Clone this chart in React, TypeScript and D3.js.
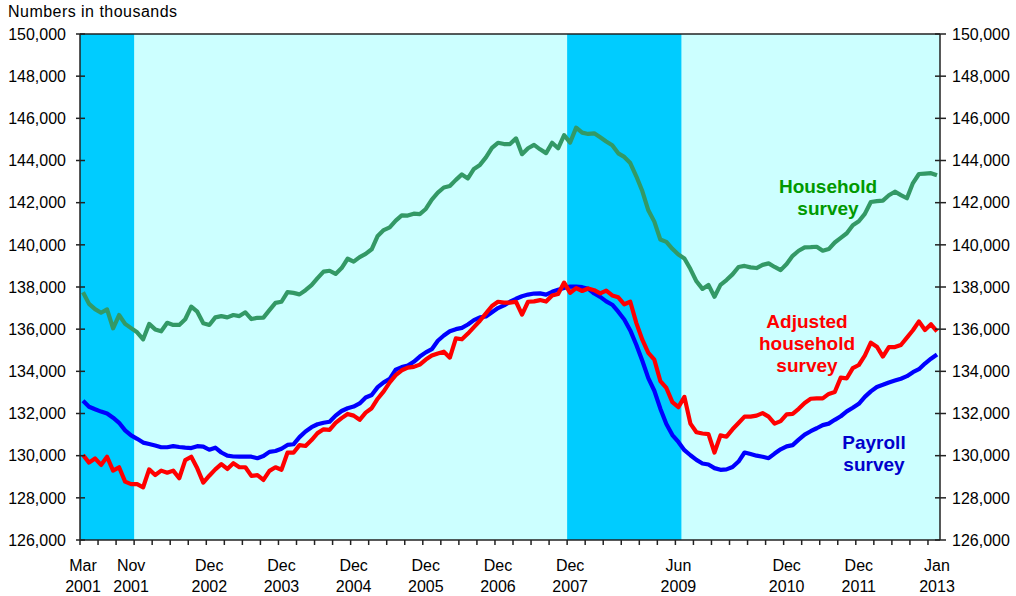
import * as d3 from "d3";

// monthly categories, Mar 2001 .. Jan 2013
const months: string[] = d3
  .timeMonth.range(new Date(2001, 2, 1), new Date(2013, 1, 1))
  .map(d3.timeFormat("%Y-%m"));

// values in thousands, one per month
const household = [
  137750, 137200, 136950, 136780, 136940, 136040, 136670, 136250, 136050, 135850, 135520, 136250,
  135990, 135900, 136300, 136200, 136200, 136470, 137070, 136830, 136280, 136200, 136560, 136620,
  136560, 136670, 136620, 136800, 136480, 136540, 136550, 136900, 137250, 137300, 137760, 137720,
  137650, 137850, 138090, 138420, 138730, 138770, 138620, 138900, 139340, 139200, 139420, 139570,
  139790, 140420, 140700, 140830, 141150, 141400, 141390, 141480, 141460, 141700, 142150, 142480,
  142720, 142790, 143080, 143340, 143150, 143600, 143790, 144150, 144600, 144840, 144780, 144780,
  145050, 144300, 144580, 144740, 144530, 144350, 144840, 144580, 145200, 144850, 145560, 145320,
  145260, 145290, 145100, 144900, 144720, 144340, 144170, 143880, 143250, 142550, 141640, 141100,
  140250, 140140, 139810, 139540, 139350, 138850, 138270, 137910, 138100, 137540, 138100, 138330,
  138600, 138950, 139000, 138930, 138900, 139050, 139120, 138950, 138800, 139090, 139480, 139720,
  139880, 139890, 139910, 139720, 139800, 140110, 140330, 140550, 140930, 141120, 141470, 142030,
  142070, 142100, 142350, 142520, 142360, 142210, 142930, 143360, 143380, 143400, 143300,
];

const adjusted = [
  130030, 129670, 129870, 129560, 129950, 129290, 129450, 128770, 128650, 128650, 128500, 129350,
  129080, 129290, 129190, 129290, 128930, 129790, 129950, 129400, 128720, 129050, 129350, 129600,
  129370, 129640, 129450, 129450, 129040, 129080, 128850, 129280, 129450, 129330, 130140, 130140,
  130500, 130460, 130740, 131070, 131250, 131220, 131550, 131780, 131980, 131900, 131700, 132040,
  132250, 132700, 133050, 133480, 133820, 134050, 134180, 134210, 134320, 134560, 134750, 134850,
  134930, 134650, 135560, 135520, 135790, 136100, 136400, 136750, 137100, 137300, 137260, 137260,
  137300, 136690, 137300, 137320, 137380, 137310, 137600, 137670, 138210, 137720, 137950, 137810,
  137930, 137850, 137700, 137830, 137600, 137510, 137180, 137300, 136300, 135500, 134880, 134550,
  133540, 133210, 132540, 132300, 132790, 131520, 131110, 131050, 131020, 130150, 130960, 130900,
  131250, 131550, 131850, 131850, 131900, 132020, 131850, 131520, 131640, 131960, 131980, 132220,
  132500, 132700, 132720, 132720, 132930, 133020, 133700, 133670, 134150, 134300, 134740, 135360,
  135170, 134700, 135150, 135150, 135250, 135600, 135950, 136370, 135960, 136230, 135900,
];

const payroll = [
  132600, 132320, 132200, 132090, 132000, 131800, 131560, 131200, 130960, 130800, 130620, 130550,
  130480, 130400, 130400, 130450, 130410, 130380, 130360, 130450, 130430, 130280, 130380, 130150,
  130000, 129960, 129950, 129950, 129950, 129880, 129980, 130180, 130220, 130330, 130510, 130540,
  130880, 131150, 131350, 131490, 131560, 131610, 131900, 132120, 132250, 132330, 132480, 132760,
  132880, 133250, 133480, 133640, 134080, 134200, 134270, 134450, 134700, 134900, 135050, 135450,
  135700, 135900, 136000, 136060, 136220, 136430, 136560, 136600, 136800, 137000, 137130, 137300,
  137440, 137560, 137640, 137690, 137700, 137640, 137770, 137870, 137950, 138020, 138020, 137990,
  137920, 137690, 137530, 137320, 137160, 136830, 136460, 135940, 135260, 134500, 133680, 133080,
  132230, 131500, 130980, 130650, 130260, 130020, 129800, 129630, 129580, 129410, 129330, 129350,
  129460, 129720, 130150, 130080, 130000, 129950, 129880, 130100, 130300, 130440, 130500, 130760,
  131000, 131160, 131300, 131450, 131520, 131700, 131870, 132100, 132270, 132460, 132790, 133050,
  133260, 133360, 133470, 133560, 133650, 133770, 133960, 134100, 134370, 134600, 134800,
];

const recessions: [string, string][] = [
  ["2001-03", "2001-11"],
  ["2007-12", "2009-06"],
];

const monthLabels: [string, string, string][] = [
  ["2001-03", "Mar", "2001"],
  ["2001-11", "Nov", "2001"],
  ["2002-12", "Dec", "2002"],
  ["2003-12", "Dec", "2003"],
  ["2004-12", "Dec", "2004"],
  ["2005-12", "Dec", "2005"],
  ["2006-12", "Dec", "2006"],
  ["2007-12", "Dec", "2007"],
  ["2009-06", "Jun", "2009"],
  ["2010-12", "Dec", "2010"],
  ["2011-12", "Dec", "2011"],
  ["2013-01", "Jan", "2013"],
];

const FONT = "'Liberation Sans', Arial, sans-serif";

export default function App() {
  const W = 1016;
  const H = 596;
  const left = 80;
  const right = 940;
  const top = 34;
  const bottom = 540;

  const x = d3.scaleBand<string>().domain(months).range([left, right]);
  const y = d3.scaleLinear().domain([126000, 150000]).range([bottom, top]);
  const bw = x.bandwidth();
  const cx = (m: string) => (x(m) as number) + bw / 2;

  const line = d3
    .line<number>()
    .x((_, i) => cx(months[i]))
    .y((d) => y(d));

  const yTicks = y.ticks(12);
  const xTicks = months.filter((_, i) => i % 3 === 0);

  const series = [
    { data: household, color: "#339966" },
    { data: payroll, color: "#0000FF" },
    { data: adjusted, color: "#FF0000" },
  ];

  return (
    <svg
      width={W}
      height={H}
      style={{ position: "absolute", left: 0, top: 0, background: "#fff" }}
      fontFamily={FONT}
    >
      <rect x={left} y={top} width={right - left} height={bottom - top} fill="#CCFFFF" />
      {recessions.map(([a, b]) => (
        <rect
          key={a}
          x={x(a)}
          y={top}
          width={(x(b) as number) + bw - (x(a) as number)}
          height={bottom - top}
          fill="#00CCFF"
        />
      ))}

      {series.map((s) => (
        <path
          key={s.color}
          d={line(s.data) || ""}
          fill="none"
          stroke={s.color}
          strokeWidth={4.2}
          strokeLinejoin="round"
        />
      ))}

      {/* frame */}
      <line x1={left} x2={right} y1={top} y2={top} stroke="#222" strokeWidth={1.5} />
      <line x1={left} x2={left} y1={top} y2={bottom} stroke="#222" strokeWidth={1.5} />
      <line x1={right} x2={right} y1={top} y2={bottom} stroke="#222" strokeWidth={1.5} />
      <line x1={left} x2={right} y1={bottom} y2={bottom} stroke="#222" strokeWidth={1.5} />

      {yTicks.map((t) => (
        <g key={t}>
          <line x1={left - 4} x2={left + 5} y1={y(t)} y2={y(t)} stroke="#222" strokeWidth={1.5} />
          <line x1={right - 5} x2={right + 6} y1={y(t)} y2={y(t)} stroke="#222" strokeWidth={1.5} />
          <text x={66} y={y(t)} dy="0.36em" textAnchor="end" fontSize={16} fill="#000">
            {d3.format(",")(t)}
          </text>
          <text x={952} y={y(t)} dy="0.36em" textAnchor="start" fontSize={16} fill="#000">
            {d3.format(",")(t)}
          </text>
        </g>
      ))}

      {xTicks.map((m) => (
        <line
          key={m}
          x1={x(m)}
          x2={x(m)}
          y1={bottom}
          y2={bottom + 5}
          stroke="#222"
          strokeWidth={1.5}
        />
      ))}

      {monthLabels.map(([m, a, b]) => (
        <g key={m} fontSize={16} fill="#000" textAnchor="middle">
          <text x={cx(m)} y={570.5}>
            {a}
          </text>
          <text x={cx(m)} y={591.5}>
            {b}
          </text>
        </g>
      ))}

      <text x={8} y={17} fontSize={16} fill="#000" textLength={169} lengthAdjust="spacing">
        Numbers in thousands
      </text>

      <g fontSize={19} fontWeight="bold" textAnchor="middle">
        <text x={828} y={193} fill="#009900">Household</text>
        <text x={828} y={215} fill="#009900">survey</text>
        <text x={807} y={328} fill="#FF0000">Adjusted</text>
        <text x={807} y={350} fill="#FF0000">household</text>
        <text x={807} y={372} fill="#FF0000">survey</text>
        <text x={874} y={449} fill="#0000CC">Payroll</text>
        <text x={874} y={471} fill="#0000CC">survey</text>
      </g>
    </svg>
  );
}
